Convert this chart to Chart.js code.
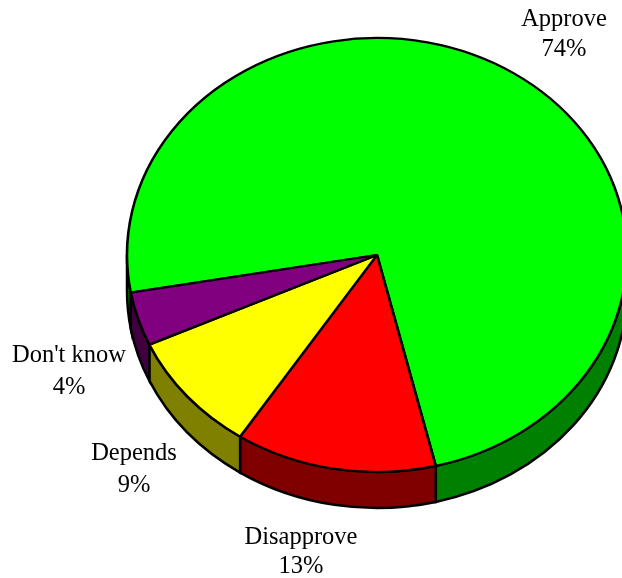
<!DOCTYPE html>
<html>
<head>
<meta charset="utf-8">
<title>Approval pie</title>
<style>
  html, body { margin: 0; padding: 0; background: #fff; }
  canvas { display: block; }
</style>
<script src="https://cdn.jsdelivr.net/npm/chart.js@4/dist/chart.umd.min.js"></script>
</head>
<body>
<canvas id="pieChart" width="622" height="578"></canvas>
<script>
const categories = ['Approve', 'Disapprove', 'Depends', "Don't know"];
const shares = [74, 13, 9, 4];
const topColors = ['#00FF00', '#FF0000', '#FFFF00', '#800080'];
const sideColors = ['#008000', '#800000', '#808000', '#400040'];

// where the tilted disc sits on the page
const disc = { x: 377, y: 255, rx: 250, ry: 217, depth: 36 };
// label centre x, name baseline, percent baseline, same order as categories
const labelSpots = [[564, 26, 56], [301, 544, 573], [134, 460, 492], [69, 362, 394]];

function tilt(ctx, arc) {
  ctx.translate(disc.x, disc.y);
  ctx.scale(disc.rx / arc.outerRadius, disc.ry / arc.outerRadius);
  ctx.translate(-arc.x, -arc.y);
}

const tiltedPie = {
  id: 'tiltedPie',
  beforeDatasetsDraw(chart) {
    const ctx = chart.ctx;
    const arcs = chart.getDatasetMeta(0).data;
    ctx.save();
    // side walls, only the part of each slice facing the viewer
    arcs.forEach((arc, i) => {
      [0, 2 * Math.PI].forEach(turn => {
        const from = Math.max(arc.startAngle, turn);
        const to = Math.min(arc.endAngle, turn + Math.PI);
        if (from >= to) return;
        ctx.beginPath();
        ctx.ellipse(disc.x, disc.y, disc.rx, disc.ry, 0, from, to);
        ctx.ellipse(disc.x, disc.y + disc.depth, disc.rx, disc.ry, 0, to, from, true);
        ctx.closePath();
        ctx.fillStyle = sideColors[i];
        ctx.fill();
        ctx.lineWidth = 2.5;
        ctx.strokeStyle = '#000';
        ctx.stroke();
      });
    });
    ctx.restore();
    ctx.save();
    tilt(ctx, arcs[0]);
  },
  afterDatasetsDraw(chart) {
    const ctx = chart.ctx;
    ctx.restore();
    ctx.save();
    ctx.fillStyle = '#000';
    ctx.textAlign = 'center';
    ctx.font = '24.5px "Liberation Serif"';
    categories.forEach((name, i) => {
      const [x, nameY, pctY] = labelSpots[i];
      ctx.fillText(name, x, nameY);
      ctx.fillText(shares[i] + '%', x, pctY);
    });
    ctx.restore();
  }
};

const pieCtx = document.getElementById('pieChart').getContext('2d');
const pieChart = new Chart(pieCtx, {
  type: 'pie',
  data: {
    labels: categories,
    datasets: [{
      data: shares,
      backgroundColor: topColors,
      borderColor: '#000',
      borderWidth: 3
    }]
  },
  options: {
    responsive: false,
    animation: false,
    rotation: 260,
    layout: { padding: 0 },
    plugins: {
      legend: { display: false },
      tooltip: { enabled: false }
    }
  },
  plugins: [tiltedPie]
});
</script>
</body>
</html>
